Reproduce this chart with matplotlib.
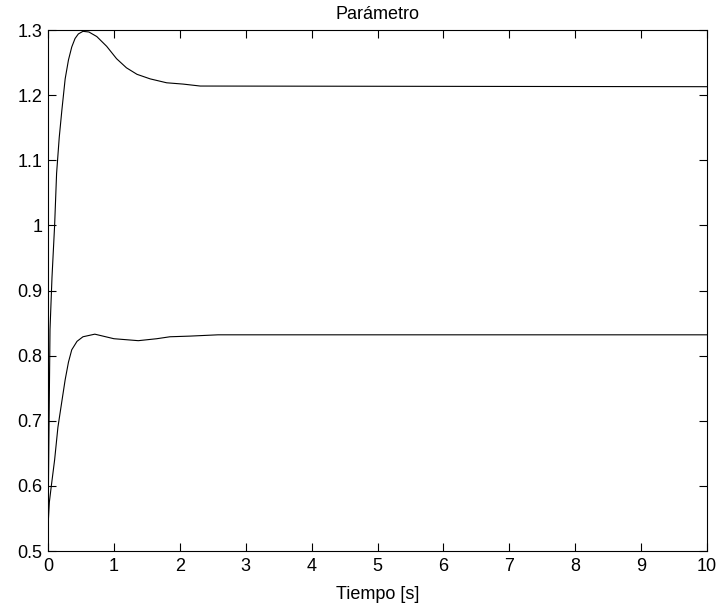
import matplotlib
matplotlib.use("Agg")
import matplotlib.pyplot as plt

plt.rcParams['font.family'] = ['Liberation Sans', 'DejaVu Sans']

# curva superior
t_sup = [0, 0.01, 0.03, 0.06, 0.10, 0.13, 0.17, 0.21, 0.26, 0.31, 0.36, 0.41, 0.46, 0.53,
         0.62, 0.74, 0.89, 1.04, 1.19, 1.35, 1.55, 1.80, 2.05, 2.31, 10]
y_sup = [0.54, 0.64, 0.84, 0.92, 1.00, 1.08, 1.135, 1.177, 1.225, 1.254, 1.274, 1.287, 1.294, 1.298,
         1.297, 1.290, 1.275, 1.256, 1.242, 1.232, 1.225, 1.219, 1.217, 1.214, 1.213]

# curva inferior
t_inf = [0, 0.02, 0.05, 0.10, 0.15, 0.21, 0.26, 0.31, 0.36, 0.44, 0.53, 0.71, 1.00,
         1.37, 1.65, 1.85, 2.15, 2.58, 10]
y_inf = [0.538, 0.575, 0.600, 0.640, 0.690, 0.730, 0.763, 0.790, 0.809, 0.822, 0.829, 0.833, 0.826,
         0.823, 0.826, 0.829, 0.830, 0.832, 0.832]

fig = plt.figure(figsize=(7.19, 6.13), dpi=100)
ax = fig.add_axes([0.0668, 0.1011, 0.9165, 0.8499])

ax.plot(t_sup, y_sup, color='black', lw=0.8)
ax.plot(t_inf, y_inf, color='black', lw=0.8)

ax.set_xlim(0, 10)
ax.set_ylim(0.5, 1.3)
ax.set_xticks(range(0, 11))
ax.set_yticks([0.5, 0.6, 0.7, 0.8, 0.9, 1.0, 1.1, 1.2, 1.3])
ax.set_yticklabels(['0.5', '0.6', '0.7', '0.8', '0.9', '1', '1.1', '1.2', '1.3'])
ax.tick_params(direction='in', top=True, right=True, labelsize=13, length=6, width=0.8, pad=4)
ax.tick_params(axis='x', pad=5)
for s in ax.spines.values():
    s.set_linewidth(0.8)

ax.set_title("Parámetro", fontsize=13, pad=8)
ax.set_xlabel("Tiempo [s]", fontsize=13, labelpad=8)

fig.savefig("out.png", dpi=100)
